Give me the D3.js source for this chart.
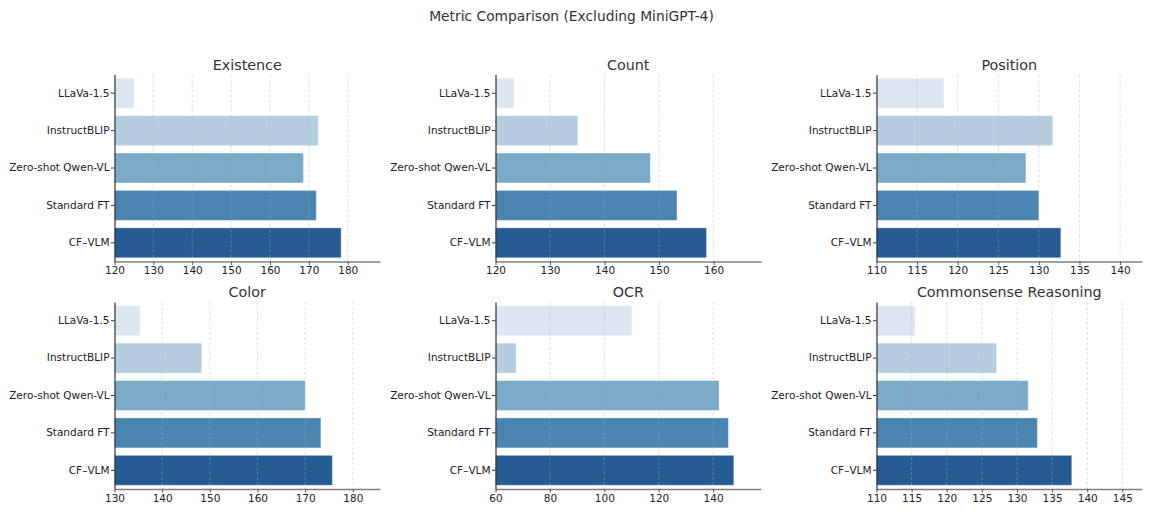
<!DOCTYPE html>
<html>
<head>
<meta charset="utf-8">
<script src="https://cdn.jsdelivr.net/npm/d3@7"></script>
<style>
  body { margin: 0; background: #fff; }
  text { font-family: "DejaVu Sans", sans-serif; }
</style>
</head>
<body>
<script>
// the data
const MODELS = ['LLaVa-1.5', 'InstructBLIP', 'Zero-shot Qwen-VL', 'Standard FT', 'CF–VLM']
const METRICS = ['Existence', 'Count', 'Position', 'Color', 'OCR', 'Commonsense Reasoning']
const EXISTENCE = [125.0, 172.4, 168.6, 171.9, 178.3]
const COUNT = [123.4, 135.1, 148.4, 153.3, 158.7]
const POSITION = [118.3, 131.7, 128.4, 130.0, 132.7]
const COLOR = [135.4, 148.3, 170.0, 173.3, 175.7]
const OCR = [110.1, 67.6, 142.2, 145.6, 147.6]
const COMMONSENSE = [115.5, 127.1, 131.6, 132.9, 137.8]
const SERIES = [EXISTENCE, COUNT, POSITION, COLOR, OCR, COMMONSENSE]
// start of each x axis
const X_MIN = [120, 120, 110, 130, 60, 110]
const TICK_STEP = [10, 10, 5, 10, 20, 5]

const COLORS = ['#dbe6f1', '#b4cee0', '#7aaac8', '#4a85b2', '#235b92']

const WIDTH = 1152
const HEIGHT = 512
const COL_X = [114.5, 495.5, 876.5]
const ROW_Y = [74.5, 302]
const PW = 265.5
const PH = 187

const svg = d3.select('body').append('svg')
  .attr('width', WIDTH)
  .attr('height', HEIGHT)

svg.append('text')
  .attr('x', 571.5)
  .attr('y', 21)
  .attr('text-anchor', 'middle')
  .attr('font-size', 13.8)
  .attr('fill', '#333')
  .text('Metric Comparison (Excluding MiniGPT-4)')

METRICS.forEach((metric, k) => {
  const values = SERIES[k]
  const g = svg.append('g')
    .attr('transform', `translate(${COL_X[k % 3]},${ROW_Y[Math.floor(k / 3)]})`)

  const x = d3.scaleLinear()
    .domain([X_MIN[k], d3.max(values) + 10])
    .range([0, PW])

  const y = d3.scaleBand()
    .domain(MODELS)
    .range([0, PH])
    .paddingInner(0.2)
    .paddingOuter(0.1)

  const ticks = d3.range(X_MIN[k], x.domain()[1] + 0.001, TICK_STEP[k])

  // bars
  g.selectAll('rect')
    .data(values)
    .enter()
    .append('rect')
    .attr('x', 0)
    .attr('y', (d, i) => y(MODELS[i]))
    .attr('width', d => x(d))
    .attr('height', y.bandwidth())
    .attr('fill', (d, i) => COLORS[i])
    .attr('stroke', 'rgba(255,255,255,0.35)')
    .attr('stroke-width', 1)

  // grid on top, faint
  g.selectAll('.grid')
    .data(ticks.slice(1))
    .enter()
    .append('line')
    .attr('x1', d => x(d))
    .attr('x2', d => x(d))
    .attr('y1', 0)
    .attr('y2', PH)
    .attr('stroke', '#b0b0b0')
    .attr('stroke-opacity', 0.5)
    .attr('stroke-width', 0.8)
    .attr('stroke-dasharray', '3,2')

  // x axis
  const xAxis = g.append('g')
    .attr('transform', `translate(0,${PH})`)
    .call(d3.axisBottom(x).tickValues(ticks).tickSize(3.5).tickPadding(2).tickSizeOuter(0))
  xAxis.select('.domain').attr('stroke', '#808080').attr('stroke-width', 1.5)
  xAxis.selectAll('.tick line').attr('stroke', '#555')
  xAxis.selectAll('text').attr('font-size', 10.5).attr('fill', '#222')

  // y axis
  const yAxis = g.append('g')
    .call(d3.axisLeft(y).tickSize(3.5).tickPadding(1.5).tickSizeOuter(0))
  yAxis.select('.domain').attr('stroke', '#333').attr('stroke-width', 1.2)
  yAxis.selectAll('.tick line').attr('stroke', '#333')
  yAxis.selectAll('text').attr('font-size', 10.5).attr('fill', '#222')

  g.append('text')
    .attr('x', PW / 2)
    .attr('y', -5)
    .attr('text-anchor', 'middle')
    .attr('font-size', 14.3)
    .attr('fill', '#333')
    .text(metric)
})
</script>
</body>
</html>
